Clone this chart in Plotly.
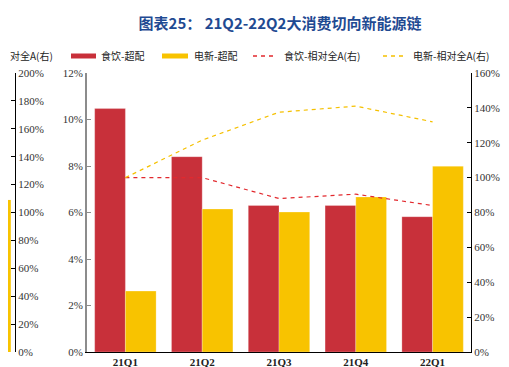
import plotly.graph_objects as go

categories = ["21Q1", "21Q2", "21Q3", "21Q4", "22Q1"]
food_over = [10.47, 8.4, 6.3, 6.3, 5.82]
ev_over = [2.62, 6.15, 6.02, 6.67, 7.99]
food_rel = [100, 100, 88, 90.5, 84]
ev_rel = [100, 121.5, 137.5, 141, 132]
series_names = ["食饮-超配", "电新-超配", "食饮-相对全A(右)", "电新-相对全A(右)"]
left_tick_vals = [0, 2, 4, 6, 8, 10, 12]
left_tick_text = ["0%", "2%", "4%", "6%", "8%", "10%", "12%"]
right_tick_vals = [0, 20, 40, 60, 80, 100, 120, 140, 160]
right_tick_text = ["0%", "20%", "40%", "60%", "80%", "100%", "120%", "140%", "160%"]
prev_chart_tick_vals = [0, 20, 40, 60, 80, 100, 120, 140, 160, 180, 200]
prev_chart_tick_text = ["0%", "20%", "40%", "60%", "80%", "100%", "120%", "140%", "160%", "180%", "200%"]
prev_chart_bar = [109]
prev_legend_fragment = "对全A(右)"

RED = "#C8303A"
YEL = "#F8C300"
RED_LINE = "#E2292E"
YEL_LINE = "#F5C000"

W, H = 509, 367
ML, MR, MT, MB = 0, 46, 65, 23
PW = W - ML - MR
PH = H - MT - MB

def px(x):
    return (x - ML) / PW

def py(y):
    return (H - MB - y) / PH

serif = "Liberation Serif"
cjk = "Noto Sans CJK SC"
tickfont = dict(family=serif, size=11, color="#333")

fig = go.Figure()
fig.add_trace(go.Bar(x=categories, y=food_over, name=series_names[0], marker_color=RED,
                     marker_line=dict(color="rgba(255,255,255,0.5)", width=0.5), xaxis="x", yaxis="y"))
fig.add_trace(go.Bar(x=categories, y=ev_over, name=series_names[1], marker_color=YEL,
                     marker_line=dict(color="rgba(255,255,255,0.5)", width=0.5), xaxis="x", yaxis="y"))
fig.add_trace(go.Scatter(x=categories, y=food_rel, name=series_names[2], mode="lines",
                         line=dict(color=RED_LINE, width=1.2, dash="4px,4px"), xaxis="x", yaxis="y2"))
fig.add_trace(go.Scatter(x=categories, y=ev_rel, name=series_names[3], mode="lines",
                         line=dict(color=YEL_LINE, width=1.2, dash="4px,4px"), xaxis="x", yaxis="y2"))
# fragment of the previous chart on the left
fig.add_trace(go.Bar(x=[0.2], y=prev_chart_bar, width=[0.4], marker_color=YEL, marker_line_width=0,
                     xaxis="x2", yaxis="y3"))

fig.update_layout(
    width=W, height=H,
    margin=dict(l=ML, r=MR, t=MT, b=MB, autoexpand=False),
    paper_bgcolor="white", plot_bgcolor="white",
    showlegend=False,
    barmode="group", bargap=0.2, bargroupgap=0,
    title=dict(text="<b>图表25： 21Q2-22Q2大消费切向新能源链</b>", x=272 / W, xanchor="center",
               y=1 - 16 / H, yanchor="middle", font=dict(family=cjk, size=15, color="#1F4A92")),
    xaxis=dict(domain=[px(79), 1], range=[-0.5, 4.5], showline=True, linecolor="black", linewidth=1,
               ticks="", showgrid=False, zeroline=False, automargin=False,
               tickfont=dict(family=serif, size=11, color="#222", weight="bold")),
    yaxis=dict(range=[0, 12], tickmode="array", tickvals=left_tick_vals, ticktext=left_tick_text,
               showline=True, linecolor="#8c8c8c", linewidth=2, ticks="inside", ticklen=4, automargin=False,
               tickcolor="#8c8c8c", showgrid=False, zeroline=False, tickfont=tickfont),
    yaxis2=dict(range=[0, 160], tickmode="array", tickvals=right_tick_vals, ticktext=right_tick_text,
                overlaying="y", side="right", anchor="x", showline=True, linecolor="black", linewidth=1,
                ticks="inside", ticklen=4, tickcolor="black", showgrid=False, zeroline=False,
                automargin=False, tickfont=tickfont),
    xaxis2=dict(domain=[0, px(7)], range=[0, 1], showline=False, showticklabels=False, ticks="",
                showgrid=False, zeroline=False, anchor="y3", automargin=False),
    yaxis3=dict(range=[0, 200], tickmode="array", tickvals=prev_chart_tick_vals, ticktext=prev_chart_tick_text,
                side="right", anchor="x2", showline=True, linecolor="black", linewidth=1, ticks="inside",
                ticklen=4, tickcolor="black", showgrid=False, zeroline=False, automargin=False,
                tickfont=tickfont),
)

# custom legend
leg_y = py(48)
shapes = [
    dict(type="rect", xref="paper", yref="paper", x0=px(63), x1=px(88), y0=py(50.5), y1=py(45.5),
         fillcolor=RED, line_width=0),
    dict(type="rect", xref="paper", yref="paper", x0=px(154), x1=px(180), y0=py(50.5), y1=py(45.5),
         fillcolor=YEL, line_width=0),
    dict(type="line", xref="paper", yref="paper", x0=px(245), x1=px(268), y0=leg_y, y1=leg_y,
         line=dict(color=RED_LINE, width=1.5, dash="4px,4px")),
    dict(type="line", xref="paper", yref="paper", x0=px(375), x1=px(398), y0=leg_y, y1=leg_y,
         line=dict(color=YEL_LINE, width=1.5, dash="4px,4px")),
]
fig.update_layout(shapes=shapes)
text_x = [91, 184, 274, 403]
for name, tx in zip(series_names, text_x):
    fig.add_annotation(text=name, xref="paper", yref="paper", x=px(tx), y=leg_y, xanchor="left",
                       yanchor="middle", showarrow=False,
                       font=dict(family=cjk, size=10, color="#222"))
fig.add_annotation(text=prev_legend_fragment, xref="paper", yref="paper", x=px(0), y=leg_y, xanchor="left",
                   yanchor="middle", showarrow=False, font=dict(family=cjk, size=10, color="#222"))

fig.write_html("out.html")
